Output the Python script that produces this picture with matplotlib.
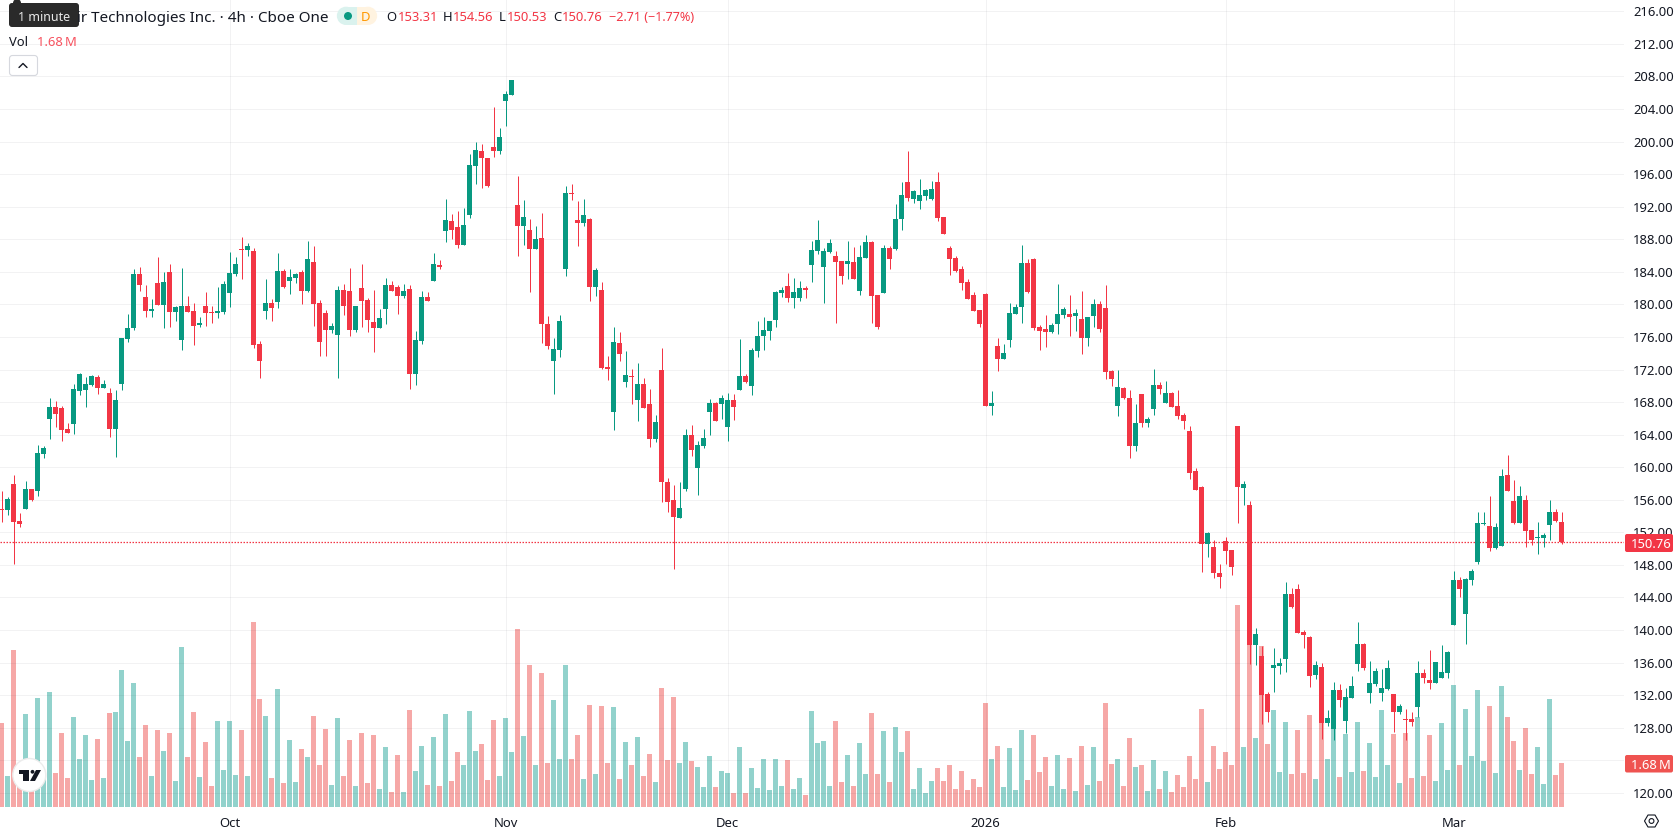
import matplotlib
matplotlib.use("Agg")
import numpy as np
import matplotlib.pyplot as plt
from matplotlib.patches import FancyBboxPatch, Circle, Polygon

plt.rcParams['font.family'] = ['Noto Sans', 'DejaVu Sans']

W, H = 1678, 835
GREEN = '#089981'
RED = '#F23645'
INK = '#131722'

opens = [
    154.85, 154.72, 157.91, 153.37, 154.84, 157.30, 157.05, 161.60, 165.90, 167.37,
    167.25, 164.67, 165.28, 169.34, 169.46, 170.08, 171.06, 169.71, 169.09, 164.67,
    170.20, 175.73, 177.08, 183.72, 180.89, 179.17, 182.61, 179.91, 183.96, 179.05,
    175.61, 179.79, 179.17, 177.45, 179.79, 179.05, 178.93, 179.05, 181.38, 183.72,
    186.75, 186.66, 186.54, 175.12, 179.17, 180.15, 180.28, 184.09, 182.86, 183.23,
    183.96, 181.63, 185.19, 180.15, 178.93, 176.84, 176.22, 181.75, 181.63, 176.84,
    182.00, 180.52, 177.82, 177.08, 179.42, 182.37, 182.12, 181.01, 181.87, 171.43,
    175.49, 180.89, 182.86, 184.82, 189.00, 190.23, 189.49, 187.28, 190.96, 196.98,
    198.83, 197.97, 199.32, 198.83, 204.97, 205.71, 192.19, 189.61, 189.12, 186.79,
    188.14, 177.63, 173.08, 174.43, 184.38, 193.72, 190.40, 190.04, 190.53, 182.17,
    181.80, 172.35, 166.82, 175.29, 170.50, 171.24, 168.29, 170.26, 167.80, 163.50,
    171.98, 158.22, 156.00, 153.80, 157.36, 164.00, 159.94, 162.64, 166.82, 167.92,
    167.80, 164.97, 168.29, 169.52, 171.24, 170.01, 174.31, 176.15, 176.77, 178.12,
    181.44, 182.30, 180.82, 180.82, 182.05, 184.88, 186.60, 184.63, 186.47, 185.98,
    185.37, 185.00, 185.24, 181.68, 185.74, 187.70, 181.19, 181.44, 186.96, 186.84,
    190.53, 195.07, 192.98, 192.74, 193.35, 192.98, 195.07, 190.77, 186.96, 185.74,
    184.38, 182.79, 181.19, 179.35, 181.31, 167.55, 174.93, 173.33, 175.66, 178.86,
    179.72, 185.12, 185.61, 177.26, 177.01, 176.65, 177.63, 178.73, 178.86, 178.61,
    178.24, 175.91, 178.61, 180.06, 179.56, 171.82, 167.53, 169.74, 168.50, 162.61,
    169.00, 165.44, 167.16, 170.10, 167.89, 169.12, 167.52, 166.42, 164.45, 159.54,
    157.57, 150.57, 150.20, 147.01, 150.94, 149.84, 165.07, 157.45, 155.36, 138.16,
    136.81, 132.14, 135.34, 135.58, 136.44, 144.43, 145.04, 139.76, 139.15, 134.48,
    135.46, 128.58, 127.84, 132.64, 128.83, 131.65, 135.83, 138.29, 132.27, 133.37,
    132.27, 132.76, 132.14, 129.93, 129.06, 129.07, 130.55, 134.72, 133.86, 133.49,
    134.11, 134.72, 140.62, 146.15, 141.97, 146.15, 148.36, 152.99, 152.78, 150.08,
    150.33, 159.05, 155.85, 153.15, 155.98, 152.29, 151.31, 151.31, 152.90, 154.50,
    153.31,
]
highs = [
    157.05, 156.30, 159.02, 154.35, 158.28, 157.30, 162.70, 162.58, 168.48, 168.11,
    167.50, 165.41, 170.20, 171.55, 171.06, 171.30, 171.30, 170.69, 169.71, 169.46,
    175.90, 178.88, 184.33, 184.58, 182.37, 180.65, 185.80, 183.96, 184.95, 179.79,
    184.45, 181.01, 180.15, 178.43, 181.51, 179.79, 182.12, 182.86, 186.42, 185.80,
    188.26, 187.52, 186.91, 175.49, 183.10, 180.65, 186.30, 184.33, 184.33, 183.84,
    184.21, 187.77, 187.16, 180.52, 179.29, 177.70, 182.24, 182.49, 184.45, 179.79,
    184.95, 180.77, 181.75, 179.42, 183.23, 182.86, 182.37, 182.49, 182.37, 176.71,
    181.63, 181.50, 186.30, 185.44, 192.93, 191.09, 191.46, 191.82, 198.46, 199.93,
    199.69, 198.00, 204.23, 201.65, 206.20, 207.55, 195.76, 192.81, 190.47, 189.61,
    191.21, 178.61, 175.91, 178.73, 194.58, 194.83, 192.74, 192.98, 190.65, 184.51,
    182.79, 173.70, 177.26, 176.65, 174.31, 172.10, 172.84, 171.00, 169.64, 166.45,
    174.68, 158.71, 157.85, 158.22, 164.73, 165.22, 163.25, 164.73, 168.41, 168.05,
    168.91, 169.15, 169.03, 175.79, 171.49, 174.68, 178.00, 178.49, 178.00, 181.68,
    182.17, 183.89, 183.28, 182.91, 182.30, 187.83, 190.40, 186.96, 188.07, 186.60,
    185.37, 187.83, 187.09, 187.33, 188.56, 187.82, 181.19, 187.33, 187.21, 192.37,
    195.07, 198.88, 194.09, 195.44, 194.21, 195.20, 196.30, 190.77, 187.21, 185.98,
    184.75, 183.16, 181.56, 179.35, 181.44, 169.40, 175.91, 175.17, 180.21, 180.09,
    187.33, 185.61, 185.74, 177.50, 178.73, 177.75, 182.54, 179.72, 181.19, 179.47,
    181.68, 178.49, 180.70, 180.42, 182.39, 171.95, 171.95, 169.86, 169.49, 167.77,
    169.00, 166.17, 172.07, 170.47, 170.60, 169.24, 169.49, 166.67, 165.07, 159.91,
    157.70, 152.05, 151.06, 148.11, 151.43, 149.84, 165.07, 158.31, 155.85, 140.25,
    138.04, 132.39, 137.80, 136.57, 145.90, 145.17, 145.66, 140.01, 139.27, 136.20,
    135.95, 130.18, 133.62, 133.37, 132.88, 134.36, 140.99, 138.41, 136.20, 135.34,
    135.22, 136.32, 132.14, 130.92, 130.30, 129.93, 136.20, 135.22, 137.55, 136.08,
    138.16, 137.43, 147.25, 146.52, 146.40, 147.50, 154.50, 154.50, 156.47, 153.15,
    159.79, 161.50, 158.43, 157.70, 156.59, 152.29, 153.27, 151.92, 155.98, 154.87,
    154.56,
]
lows = [
    153.29, 154.10, 148.08, 152.63, 154.84, 155.82, 156.44, 161.11, 163.44, 164.92,
    163.20, 164.18, 164.06, 168.85, 167.37, 169.95, 168.97, 169.71, 163.69, 161.23,
    169.47, 175.40, 176.84, 181.63, 178.43, 178.43, 179.91, 177.08, 177.20, 177.94,
    174.38, 179.05, 175.00, 177.20, 177.33, 177.70, 178.31, 178.80, 179.66, 183.47,
    183.10, 185.93, 174.63, 170.94, 178.19, 177.94, 179.54, 182.00, 181.26, 182.61,
    180.03, 181.50, 177.33, 173.64, 173.64, 176.47, 170.94, 178.68, 176.10, 176.59,
    177.20, 176.59, 174.14, 177.08, 177.57, 181.63, 178.80, 180.77, 169.59, 170.08,
    175.12, 180.40, 182.86, 184.33, 187.65, 188.02, 186.91, 187.28, 190.60, 194.77,
    194.28, 194.40, 198.09, 198.46, 201.90, 205.71, 185.93, 187.28, 181.50, 186.79,
    175.24, 174.56, 169.03, 173.57, 183.52, 192.86, 187.21, 189.67, 180.45, 181.07,
    172.10, 170.75, 164.60, 173.08, 169.89, 167.80, 165.71, 167.31, 162.52, 163.13,
    155.76, 154.53, 147.44, 153.80, 157.11, 161.41, 156.62, 162.39, 164.00, 165.71,
    165.96, 163.25, 165.84, 169.52, 170.38, 168.91, 173.57, 174.43, 175.66, 177.26,
    180.95, 180.33, 179.59, 180.45, 180.82, 182.79, 186.23, 180.21, 186.35, 177.75,
    182.54, 183.16, 183.16, 181.19, 185.74, 177.75, 177.01, 181.44, 184.38, 186.72,
    189.18, 192.74, 192.49, 191.76, 192.86, 192.86, 190.28, 188.68, 183.65, 184.02,
    181.80, 180.70, 179.23, 177.26, 167.55, 166.45, 171.85, 173.33, 174.80, 178.86,
    177.75, 181.44, 176.89, 174.43, 174.80, 176.52, 176.40, 178.37, 176.15, 176.77,
    173.94, 174.93, 177.26, 176.62, 170.84, 169.98, 166.30, 168.38, 161.14, 162.00,
    164.95, 164.95, 166.42, 169.00, 167.89, 167.40, 165.93, 164.70, 158.56, 157.21,
    147.13, 148.97, 146.40, 145.17, 148.11, 146.76, 153.15, 155.36, 135.83, 135.71,
    128.46, 128.70, 132.39, 134.60, 134.85, 142.71, 139.64, 137.80, 133.00, 134.00,
    126.62, 128.20, 126.50, 130.55, 127.35, 131.65, 134.97, 135.09, 131.04, 133.13,
    131.28, 132.64, 127.48, 129.69, 126.50, 128.20, 129.32, 133.49, 132.76, 133.49,
    134.11, 134.11, 140.62, 144.06, 138.29, 145.53, 148.11, 152.90, 149.71, 149.96,
    150.33, 157.08, 153.03, 153.15, 150.20, 150.45, 149.34, 150.20, 151.06, 153.27,
    150.53,
]
closes = [
    154.75, 156.07, 153.25, 153.00, 157.30, 155.95, 161.72, 162.34, 167.37, 166.51,
    164.55, 164.18, 169.58, 171.43, 170.20, 171.18, 169.71, 170.20, 164.67, 168.23,
    175.85, 177.08, 183.72, 182.37, 179.17, 179.42, 179.91, 182.73, 179.05, 179.66,
    179.79, 179.05, 177.33, 177.70, 178.93, 178.93, 179.17, 182.49, 183.84, 184.95,
    186.65, 187.16, 175.00, 173.03, 180.15, 179.54, 184.09, 182.12, 183.35, 183.72,
    181.63, 185.56, 180.03, 175.36, 176.84, 177.33, 181.75, 179.79, 176.84, 179.79,
    180.40, 178.07, 177.08, 178.31, 182.37, 181.63, 181.01, 181.63, 171.43, 175.61,
    180.89, 180.40, 184.95, 184.58, 190.35, 189.12, 187.28, 189.74, 197.11, 198.95,
    197.97, 194.53, 198.83, 200.55, 205.83, 207.55, 189.61, 190.72, 186.79, 188.02,
    177.57, 174.93, 174.56, 178.00, 193.72, 193.60, 190.04, 191.02, 182.17, 184.26,
    172.22, 172.10, 175.42, 173.94, 171.36, 171.12, 170.26, 167.31, 163.50, 165.59,
    158.22, 155.76, 153.92, 155.02, 164.00, 162.15, 162.76, 163.62, 167.92, 165.71,
    168.54, 168.29, 167.43, 171.24, 170.50, 174.43, 176.15, 176.89, 178.00, 181.56,
    181.80, 180.82, 181.56, 182.05, 181.80, 186.72, 187.95, 186.60, 187.58, 185.24,
    183.52, 185.37, 183.16, 185.86, 187.70, 181.07, 177.26, 186.96, 185.61, 190.53,
    193.48, 193.11, 193.97, 193.48, 194.09, 194.21, 190.65, 188.68, 185.61, 184.10,
    182.67, 180.70, 179.23, 177.63, 167.55, 167.92, 173.33, 174.07, 178.98, 179.72,
    185.12, 181.56, 177.14, 176.77, 176.65, 177.50, 178.86, 179.47, 178.49, 178.98,
    175.91, 178.49, 180.09, 176.98, 171.70, 170.84, 169.86, 168.50, 162.61, 165.44,
    165.44, 165.93, 170.10, 169.61, 169.12, 167.40, 166.30, 165.68, 159.29, 157.21,
    150.57, 151.92, 147.01, 146.52, 149.71, 147.75, 157.57, 157.94, 138.16, 139.52,
    132.02, 129.93, 135.71, 135.95, 144.43, 142.83, 139.64, 139.39, 134.36, 135.71,
    128.58, 129.20, 132.64, 131.41, 131.78, 133.13, 138.29, 135.34, 133.49, 134.97,
    132.88, 135.34, 129.93, 130.67, 128.94, 128.70, 134.72, 134.11, 133.49, 136.08,
    134.85, 137.30, 146.15, 145.04, 146.27, 147.25, 153.15, 153.15, 150.08, 152.66,
    158.93, 157.08, 153.15, 156.47, 152.17, 151.06, 151.43, 151.68, 154.50, 153.40,
    150.76,
]
# volume in millions
volumes = [
    3.22, 1.18, 6.03, 1.25, 3.56, 0.90, 4.18, 1.30, 4.41, 1.29,
    2.83, 1.10, 3.45, 1.83, 2.76, 1.03, 2.60, 1.10, 3.60, 3.64,
    5.26, 2.53, 4.76, 1.91, 3.14, 1.18, 2.95, 2.14, 2.83, 0.99,
    6.14, 1.91, 3.64, 1.14, 2.49, 0.79, 3.29, 1.41, 3.29, 1.22,
    2.95, 1.18, 7.10, 4.14, 3.49, 1.10, 4.53, 0.91, 2.56, 0.95,
    2.22, 1.91, 3.49, 1.60, 2.99, 0.83, 3.41, 1.18, 2.56, 0.79,
    2.83, 0.91, 2.76, 0.68, 2.29, 0.56, 1.99, 0.56, 3.72, 1.37,
    2.33, 0.83, 2.68, 0.79, 3.56, 0.99, 2.10, 1.60, 3.68, 2.14,
    2.41, 1.03, 3.33, 1.18, 3.41, 2.10, 6.83, 2.72, 5.45, 1.60,
    5.14, 1.68, 4.10, 1.83, 5.46, 1.83, 2.76, 1.06, 3.91, 1.26,
    3.87, 1.68, 3.83, 1.06, 2.49, 1.60, 2.68, 1.18, 2.03, 0.95,
    4.56, 1.79, 4.22, 1.68, 2.49, 1.76, 1.53, 0.76, 1.95, 0.76,
    1.37, 1.29, 0.53, 2.29, 0.53, 1.49, 0.72, 1.83, 0.64, 1.83,
    0.79, 1.79, 0.68, 1.10, 0.45, 3.68, 2.45, 2.53, 0.79, 3.29,
    0.95, 1.99, 0.79, 2.45, 1.26, 3.60, 1.26, 2.91, 0.95, 3.06,
    2.10, 2.91, 0.68, 1.49, 0.53, 0.99, 1.49, 0.99, 1.60, 0.68,
    1.37, 0.64, 1.06, 0.76, 3.99, 1.83, 2.33, 0.76, 2.26, 0.64,
    2.95, 1.03, 2.76, 1.33, 1.91, 0.79, 1.99, 0.68, 1.87, 0.60,
    2.33, 0.83, 2.29, 0.99, 3.99, 1.64, 1.83, 0.79, 2.64, 1.53,
    1.60, 0.60, 1.79, 0.68, 1.37, 0.56, 1.22, 0.76, 1.95, 1.06,
    3.76, 0.95, 2.33, 1.45, 2.10, 1.60, 7.76, 2.29, 6.30, 2.64,
    6.18, 2.41, 3.72, 1.33, 3.26, 1.26, 2.95, 1.29, 3.53, 1.06,
    3.40, 1.83, 3.20, 1.14, 2.79, 1.33, 3.26, 1.37, 2.45, 1.14,
    3.72, 1.60, 2.79, 0.91, 2.83, 1.10, 3.45, 1.18, 2.76, 0.99,
    3.22, 1.41, 4.68, 1.60, 3.76, 1.95, 4.49, 1.76, 3.87, 1.29,
    4.64, 3.45, 2.53, 1.41, 3.03, 1.26, 2.29, 0.87, 4.14, 1.22,
    1.68,
]
month_pos = [38, 84, 121, 164, 204, 242]
month_labels = ['Oct', 'Nov', 'Dec', '2026', 'Feb', 'Mar']
price_ticks = list(range(120, 220, 4))
last_close = closes[-1]
last_volume = volumes[-1]


def px_to_pt(v):
    return v * 0.72


o = np.array(opens)
h = np.array(highs)
l = np.array(lows)
c = np.array(closes)
v = np.array(volumes)
xs = np.arange(len(o))
is_up = c >= o
candle_colors = np.where(is_up, GREEN, RED)
vol_colors = np.where(is_up, '#26a69a', '#ef5350')

fig = plt.figure(figsize=(W / 100, H / 100), dpi=100, facecolor='white')
pane = [0, (H - 807) / H, 1624 / W, 807 / H]

# volume sits underneath, price panel on top with a clear background
ax_vol = fig.add_axes(pane, zorder=1)
ax_vol.bar(xs, v, width=5 / 6, color=vol_colors, alpha=0.5, linewidth=0)
ax_vol.set_ylim(0, 807 / 26.0)
ax_vol.set_yticks([])
ax_vol.set_xticks([])
for s in ax_vol.spines.values():
    s.set_visible(False)

ax = fig.add_axes(pane, zorder=2)
ax.patch.set_visible(False)
ax.set_axisbelow(True)
ax.vlines(xs, l, h, colors=candle_colors, linewidth=px_to_pt(1.0), zorder=3)
ax.bar(xs, np.abs(c - o), bottom=np.minimum(o, c), width=5 / 6,
       color=candle_colors, linewidth=0, zorder=4)
ax.axhline(last_close, color=RED, linewidth=0.9, linestyle=(0, (1.2, 1.2)), zorder=2)

ax.set_xlim(-1.6 / 6, (1624 - 1.6) / 6)
ax_vol.set_xlim(ax.get_xlim())
ax.set_ylim(188 - (807 - 239.3) / 8.14, 188 + 239.3 / 8.14)
ax.yaxis.tick_right()
ax.set_yticks(price_ticks)
# the 124 label would sit behind the volume tag
ax.set_yticklabels(['' if p == 124 else '%.2f' % p for p in price_ticks])
ax.set_xticks(month_pos)
ax.set_xticklabels(month_labels)
ax.tick_params(axis='both', length=0, labelsize=px_to_pt(13), labelcolor=INK)
ax.tick_params(axis='y', pad=px_to_pt(9))
ax.tick_params(axis='x', pad=px_to_pt(10))
ax.get_xticklabels()[3].set_fontweight('bold')
ax.grid(True, color='#2A2E39', alpha=0.06, linewidth=px_to_pt(1.0))
for s in ax.spines.values():
    s.set_visible(False)

# header, tags and logo are laid out in screen pixels
ui = fig.add_axes([0, 0, 1, 1], zorder=3)
ui.set_xlim(0, W)
ui.set_ylim(H, 0)
ui.axis('off')


def label(x, y, s, color=INK, size=13, ha='left', weight='normal'):
    ui.text(x, y, s, color=color, fontsize=px_to_pt(size), ha=ha, va='center_baseline', fontweight=weight)


label(328.5, 16, 'ir Technologies Inc. · 4h · Cboe One', size=15.2, ha='right')

ui.add_patch(Circle((17, 3), 4, color='#2A2A2A', linewidth=0))
ui.add_patch(FancyBboxPatch((11, 5), 66, 20, boxstyle='round,pad=2,rounding_size=3', facecolor='#2A2A2A', linewidth=0))
label(44, 16, '1 minute', color='#E8E8E8', size=12.5, ha='center')

# exchange status pill
ui.add_patch(FancyBboxPatch((346, 6.7), 11, 18.3, boxstyle='square,pad=0', facecolor='#DAF2EE', linewidth=0))
ui.add_patch(Circle((346, 15.85), 9.15, facecolor='#DAF2EE', linewidth=0))
ui.add_patch(FancyBboxPatch((357, 6.7), 11, 18.3, boxstyle='square,pad=0', facecolor='#FFF3E0', linewidth=0))
ui.add_patch(Circle((368, 15.85), 9.15, facecolor='#FFF3E0', linewidth=0))
ui.add_patch(Circle((348, 16), 4, facecolor=GREEN, linewidth=0))
label(366, 16, 'D', color='#FF9800', size=13, ha='center', weight='bold')

for x, s, col, sz in [(386, 'O', INK, 13), (397.5, '153.31', RED, 13), (443, 'H', INK, 13), (453, '154.56', RED, 13),
                      (499, 'L', INK, 13), (507, '150.53', RED, 13), (553, 'C', INK, 13), (562, '150.76', RED, 13),
                      (609, '−2.71 (−1.77%)', RED, 12.6)]:
    label(x, 16, s, color=col, size=sz)

label(9.3, 41, 'Vol', size=13)
label(37, 41, '%.2f\u2009M' % last_volume, color='#F7525F', size=13)

ui.add_patch(FancyBboxPatch((9.5, 55.5), 28, 20, boxstyle='round,pad=0,rounding_size=3',
                            facecolor='white', edgecolor='#D6D8DE', linewidth=0.8))
ui.plot([19, 23, 27], [67.5, 63.5, 67.5], color=INK, linewidth=1.0, solid_capstyle='round')

# last price and last volume tags
ui.add_patch(FancyBboxPatch((1626, 535), 46, 16, boxstyle='round,pad=1,rounding_size=2', facecolor=RED, linewidth=0))
label(1651, 543.2, '%.2f' % last_close, color='white', ha='center')
ui.add_patch(FancyBboxPatch((1626, 756), 46, 15.5, boxstyle='round,pad=1,rounding_size=2', facecolor='#EF5350', linewidth=0))
label(1651, 763.7, '%.2f\u2009M' % last_volume, color='white', ha='center')

# settings icon in the corner
cx, cy = 1651.5, 821
ui.add_patch(Polygon([(cx - 7, cy), (cx - 3.5, cy - 6), (cx + 3.5, cy - 6), (cx + 7, cy), (cx + 3.5, cy + 6), (cx - 3.5, cy + 6)],
                     closed=True, facecolor='none', edgecolor=INK, linewidth=0.8))
ui.add_patch(Circle((cx, cy), 2.4, facecolor='none', edgecolor=INK, linewidth=0.8))

# logo badge
ui.add_patch(Circle((29.3, 775), 16.5, facecolor='white', edgecolor='#ECECEC', linewidth=1.0, zorder=5))
ui.add_patch(Polygon([(19, 770), (29.3, 770), (29.3, 781), (23.3, 781), (23.3, 774.4), (19, 774.4)], closed=True, facecolor='#131722', linewidth=0, zorder=6))
ui.add_patch(Circle((32.5, 771.8), 1.9, facecolor='#131722', linewidth=0, zorder=6))
ui.add_patch(Polygon([(36, 770), (41, 770), (35, 781), (30, 781)], closed=True, facecolor='#131722', linewidth=0, zorder=6))

fig.savefig('out.png', dpi=100)
